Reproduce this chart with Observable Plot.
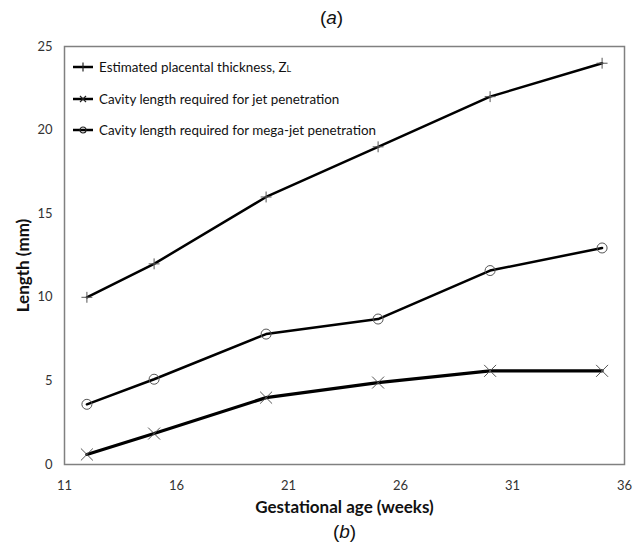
<!DOCTYPE html>
<html>
<head>
<meta charset="utf-8">
<script src="https://cdn.jsdelivr.net/npm/d3@7"></script>
<script src="https://cdn.jsdelivr.net/npm/@observablehq/plot@0.6"></script>
<style>
  html, body { margin: 0; padding: 0; background: #fff; }
  #wrap { position: relative; width: 639px; height: 543px; }
  #legend { position: absolute; left: 73px; top: 58px; font-family: Lato, "Open Sans", sans-serif; font-size: 13.4px; color: #111; }
  #legend .row { display: flex; align-items: center; height: 18px; margin-bottom: 13.5px; }
  #legend svg { margin-right: 6px; }
</style>
</head>
<body>
<div id="wrap"></div>
<script>
const weeks = [12, 15, 20, 25, 30, 35];
const placental = [10, 12, 16, 19, 22, 24];
const jet = [0.6, 1.85, 4.0, 4.9, 5.6, 5.6];
const megaJet = [3.6, 5.1, 7.8, 8.7, 11.6, 12.95];
const xTicks = [11, 16, 21, 26, 31, 36];
const yTicks = [0, 5, 10, 15, 20, 25];
const seriesNames = [
  "Estimated placental thickness, Z",
  "Cavity length required for jet penetration",
  "Cavity length required for mega-jet penetration"
];
const symbols = ["plus", "times", "circle"];

const seriesValues = [placental, jet, megaJet];
const data = seriesValues.map((vals, s) => weeks.map((w, i) => ({week: w, len: vals[i], s})));

const font = "Lato, 'Open Sans', sans-serif";
const lineWidths = [2.5, 3.2, 2.5];
const dotR = [3.6, 5.5, 5];

const marks = [];
data.forEach((d, s) => {
  marks.push(Plot.line(d, {x: "week", y: "len", stroke: "#000", strokeWidth: lineWidths[s]}));
  marks.push(Plot.dot(d, {x: "week", y: "len", symbol: () => symbols[s], r: dotR[s], stroke: "#555", strokeWidth: 1, fill: "none"}));
});

const chart = Plot.plot({
  width: 639,
  height: 543,
  marginLeft: 64,
  marginRight: 15,
  marginTop: 46,
  marginBottom: 79,
  style: {fontFamily: font, fontSize: "13px", color: "#333", background: "#fff"},
  x: {domain: [11, 36], ticks: xTicks, tickSize: 0, tickPadding: 16, label: null},
  y: {domain: [0, 25], ticks: yTicks, tickSize: 0, tickPadding: 12, label: null},
  marks: [
    Plot.frame({stroke: "#808080", strokeWidth: 1.5}),
    ...marks,
    Plot.text(["Length (mm)"], {frameAnchor: "left", textAnchor: "middle", lineAnchor: "middle", rotate: -90, dx: -41, dy: 10, fontWeight: "bold", fontSize: 17, fill: "#111", fontFamily: font}),
    Plot.text(["Gestational age (weeks)"], {frameAnchor: "bottom", textAnchor: "middle", lineAnchor: "middle", dy: 43, fontWeight: "bold", fontSize: 17, fill: "#111", fontFamily: font}),
    Plot.text(["(a)"], {frameAnchor: "top", textAnchor: "middle", lineAnchor: "middle", dx: -13, dy: -29, fontSize: 19, fill: "#111", fontFamily: "'Liberation Sans', Arial, sans-serif"}),
    Plot.text(["(b)"], {frameAnchor: "bottom", textAnchor: "middle", lineAnchor: "middle", dy: 67, fontSize: 19, fill: "#111", fontFamily: "'Liberation Sans', Arial, sans-serif"})
  ]
});

// italicize the letters a / b
chart.querySelectorAll("text").forEach(t => {
  if (t.textContent === "(a)" || t.textContent === "(b)") {
    const letter = t.textContent[1];
    t.textContent = "";
    const NS = "http://www.w3.org/2000/svg";
    const p1 = document.createElementNS(NS, "tspan"); p1.textContent = "(";
    const p2 = document.createElementNS(NS, "tspan"); p2.textContent = letter; p2.setAttribute("font-style", "italic");
    const p3 = document.createElementNS(NS, "tspan"); p3.textContent = ")";
    t.append(p1, p2, p3);
  }
});

const wrap = document.getElementById("wrap");
wrap.appendChild(chart);

// legend
const legend = document.createElement("div");
legend.id = "legend";
const glyph = {
  plus: '<path d="M10,4.5V13.5" stroke="#222" stroke-width="1.2"/>',
  times: '<path d="M7,6L13,12M13,6L7,12" stroke="#222" stroke-width="1.2"/>',
  circle: '<circle cx="10" cy="9" r="3" fill="none" stroke="#222" stroke-width="1.2"/>'
};
seriesNames.forEach((name, i) => {
  const row = document.createElement("div");
  row.className = "row";
  const sub = i === 0 ? '<span style="font-size:9px">L</span>' : "";
  row.innerHTML = `<svg width="20" height="18"><line x1="0" x2="20" y1="9" y2="9" stroke="#000" stroke-width="2.5"/>${glyph[symbols[i]]}</svg><span>${name}${sub}</span>`;
  legend.appendChild(row);
});
wrap.appendChild(legend);
</script>
</body>
</html>
